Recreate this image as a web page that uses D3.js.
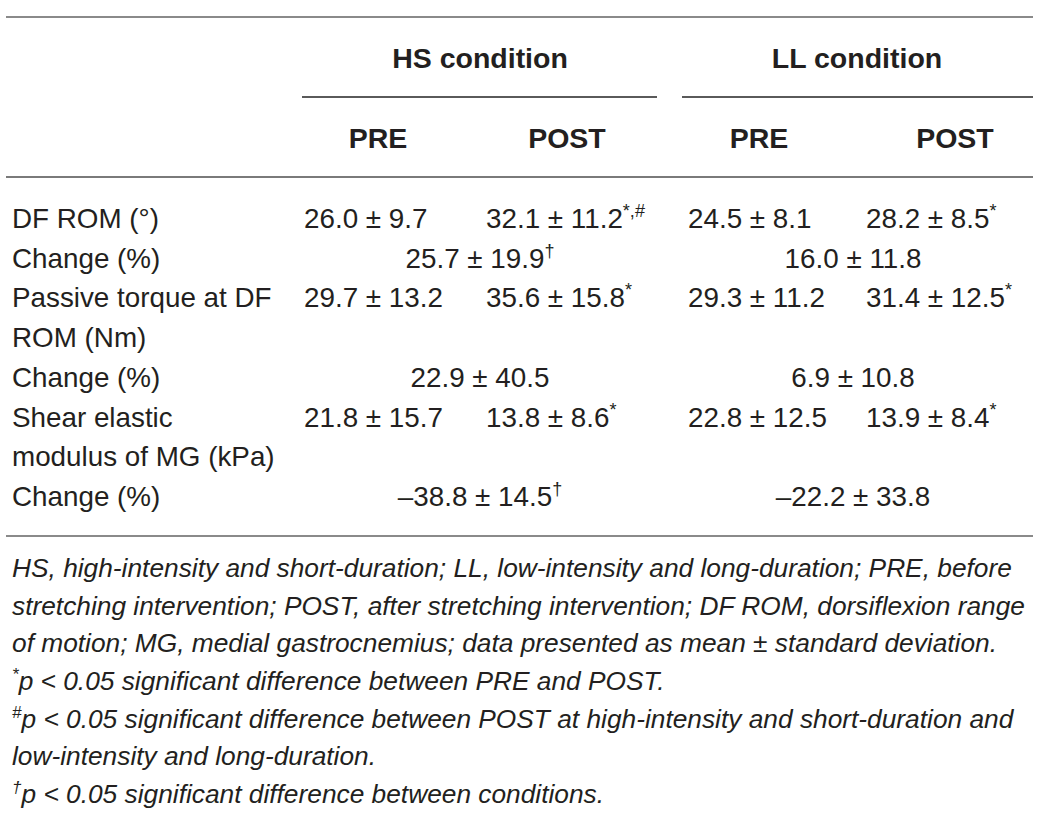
<!DOCTYPE html>
<html>
<head>
<meta charset="utf-8">
<script src="https://cdn.jsdelivr.net/npm/d3@7"></script>
<style>
  body { margin: 0; background: #fff; }
  text { font-family: "Liberation Sans", Arial, sans-serif; fill: #231f20; }
</style>
</head>
<body>
<div id="chart"></div>
<script>
// table content
const conditions = ["HS condition", "LL condition"];
const phases = ["PRE", "POST"];
const measureLabels = [
  ["DF ROM (°)"],
  ["Passive torque at DF", "ROM (Nm)"],
  ["Shear elastic", "modulus of MG (kPa)"]
];
const changeLabel = "Change (%)";

const hsPreMean = [26.0, 29.7, 21.8];
const hsPreSd = [9.7, 13.2, 15.7];
const hsPostMean = [32.1, 35.6, 13.8];
const hsPostSd = [11.2, 15.8, 8.6];
const hsPostMarks = ["*,#", "*", "*"];
const llPreMean = [24.5, 29.3, 22.8];
const llPreSd = [8.1, 11.2, 12.5];
const llPostMean = [28.2, 31.4, 13.9];
const llPostSd = [8.5, 12.5, 8.4];
const llPostMarks = ["*", "*", "*"];

const hsChangeMean = [25.7, 22.9, -38.8];
const hsChangeSd = [19.9, 40.5, 14.5];
const hsChangeMarks = ["†", "", "†"];
const llChangeMean = [16.0, 6.9, -22.2];
const llChangeSd = [11.8, 10.8, 33.8];
const llChangeMarks = ["", "", ""];

// footnote lines: [superscript, text]
const footnotes = [
  ["", "HS, high-intensity and short-duration; LL, low-intensity and long-duration; PRE, before"],
  ["", "stretching intervention; POST, after stretching intervention; DF ROM, dorsiflexion range"],
  ["", "of motion; MG, medial gastrocnemius; data presented as mean ± standard deviation."],
  ["*", "p < 0.05 significant difference between PRE and POST."],
  ["#", "p < 0.05 significant difference between POST at high-intensity and short-duration and"],
  ["", "low-intensity and long-duration."],
  ["†", "p < 0.05 significant difference between conditions."]
];

const W = 1051, H = 823;
const svg = d3.select("#chart").append("svg")
  .attr("width", W).attr("height", H);

const fmt = v => (v < 0 ? "\u2013" : "") + d3.format(".1f")(Math.abs(v));
const cell = (m, s) => fmt(m) + " ± " + fmt(s);

// build body rows from the arrays
const rows = [];
measureLabels.forEach((lab, i) => {
  rows.push({
    label: lab,
    cells: [
      { text: cell(hsPreMean[i], hsPreSd[i]), mark: "", col: 0 },
      { text: cell(hsPostMean[i], hsPostSd[i]), mark: hsPostMarks[i], col: 1 },
      { text: cell(llPreMean[i], llPreSd[i]), mark: "", col: 2 },
      { text: cell(llPostMean[i], llPostSd[i]), mark: llPostMarks[i], col: 3 }
    ]
  });
  rows.push({
    label: [changeLabel],
    span: [
      { text: cell(hsChangeMean[i], hsChangeSd[i]), mark: hsChangeMarks[i], group: 0 },
      { text: cell(llChangeMean[i], llChangeSd[i]), mark: llChangeMarks[i], group: 1 }
    ]
  });
});

// line index scale for body rows
let lineIdx = 0;
rows.forEach(r => { r.line = lineIdx; lineIdx += r.label.length; });
const y = d3.scaleLinear().domain([0, lineIdx - 1]).range([228, 506]);

const colX = d3.scaleOrdinal().domain([0, 1, 2, 3]).range([304, 486, 688, 866]);
const groupX = d3.scaleOrdinal().domain([0, 1]).range([480, 853]);
const condCenter = d3.scaleOrdinal().domain([0, 1]).range([480, 857]);
const phaseCenter = d3.scaleOrdinal().domain([0, 1, 2, 3]).range([378, 567, 759, 955]);
const fs = 27.8;
const fsBold = 28.5;

// rules
const rule = (x1, x2, yy, c) => svg.append("line")
  .attr("x1", x1).attr("x2", x2).attr("y1", yy).attr("y2", yy)
  .attr("stroke", c).attr("stroke-width", 2);
rule(6, 1033, 17, "#8a8a8a");
rule(302, 657, 97, "#5a5a5a");
rule(682, 1033, 97, "#5a5a5a");
rule(6, 1033, 177, "#7a7a7a");
rule(6, 1033, 536, "#8a8a8a");

// headers
svg.selectAll("text.cond").data(conditions).join("text")
  .attr("class", "cond")
  .attr("x", (d, i) => condCenter(i)).attr("y", 68)
  .attr("text-anchor", "middle")
  .attr("font-size", fsBold).attr("font-weight", "bold")
  .text(d => d);

svg.selectAll("text.phase").data([0, 1, 2, 3]).join("text")
  .attr("class", "phase")
  .attr("x", d => phaseCenter(d)).attr("y", 148)
  .attr("text-anchor", "middle")
  .attr("font-size", fsBold).attr("font-weight", "bold")
  .text(d => phases[d % 2]);

// row labels
rows.forEach(r => {
  r.label.forEach((l, k) => {
    svg.append("text")
      .attr("x", 12).attr("y", y(r.line + k))
      .attr("font-size", fs)
      .text(l);
  });
});

function addValue(g, d) {
  const t = g.append("text").attr("font-size", fs);
  t.append("tspan").text(d.text);
  if (d.mark) {
    t.append("tspan").attr("font-size", fs * 0.65).attr("dy", -11).text(d.mark);
  }
  return t;
}

rows.forEach(r => {
  if (r.cells) {
    r.cells.forEach(c => {
      addValue(svg, c).attr("x", colX(c.col)).attr("y", y(r.line));
    });
  } else {
    r.span.forEach(s => {
      const t = addValue(svg, s);
      const w = t.node().getComputedTextLength();
      t.attr("x", groupX(s.group) - w / 2).attr("y", y(r.line));
    });
  }
});

// footnotes
const fy = d3.scaleLinear().domain([0, footnotes.length - 1]).range([577, 803]);
footnotes.forEach((f, i) => {
  const t = svg.append("text")
    .attr("x", 12).attr("y", fy(i))
    .attr("font-size", 26.3).attr("font-style", "italic");
  if (f[0]) t.append("tspan").attr("font-size", 17).attr("dy", -10).text(f[0]);
  t.append("tspan").attr("dy", f[0] ? 10 : 0).text(f[1]);
});
</script>
</body>
</html>
